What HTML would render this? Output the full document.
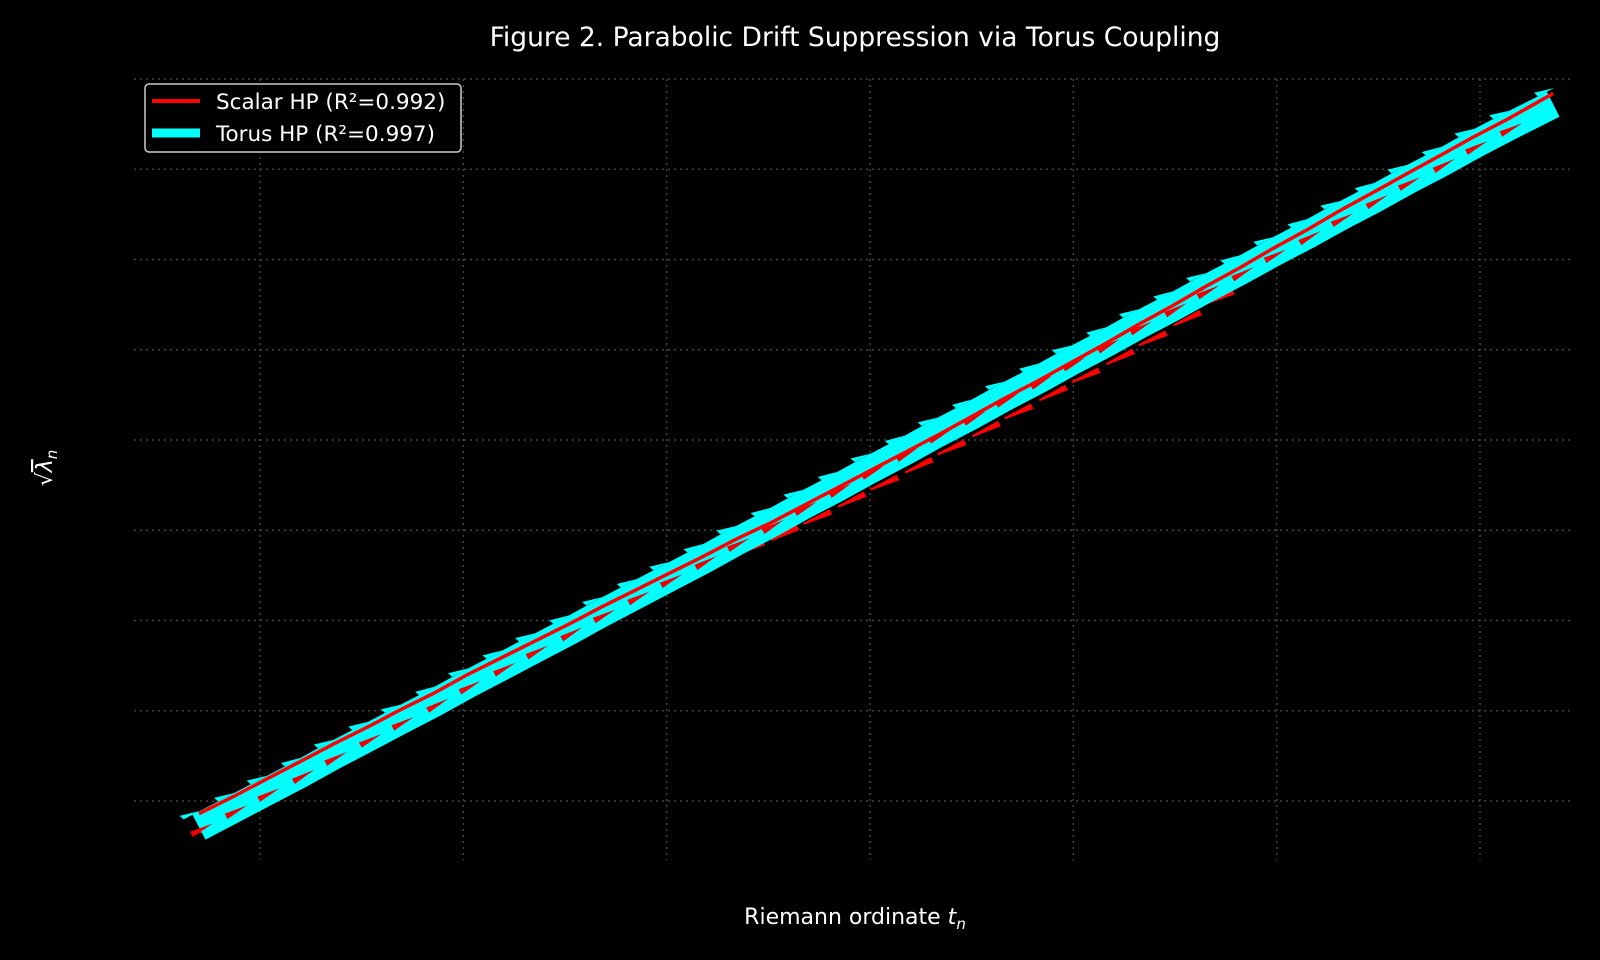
<!DOCTYPE html>
<html><head><meta charset="utf-8"><style>
html,body{margin:0;padding:0;background:#000;}
svg{display:block;font-family:"DejaVu Sans","Liberation Sans",sans-serif;}
</style></head><body>
<svg id="chart" width="1600" height="960" viewBox="0 0 1600 960">
<rect width="1600" height="960" fill="#000"/>
<text x="855" y="46" fill="#fff" font-size="26.5" text-anchor="middle">Figure 2. Parabolic Drift Suppression via Torus Coupling</text>
<g id="grid"></g>
<g id="marks"></g>
<text x="855" y="924" fill="#fff" font-size="22" text-anchor="middle">Riemann ordinate <tspan font-style="italic">t</tspan><tspan font-style="italic" font-size="15" dy="5">n</tspan></text>
<g transform="translate(52,468) rotate(-90)">
<text x="0" y="0" fill="#fff" font-size="22" text-anchor="middle">√<tspan font-style="italic" text-decoration="overline">λ</tspan><tspan font-style="italic" font-size="15" dy="5">n</tspan></text>
</g>
<g>
<rect x="145" y="84" width="316" height="68" rx="4" fill="#000" stroke="#ccc" stroke-width="1.5"/>
<g>
<line x1="152" y1="101" x2="200" y2="101" stroke="#f00" stroke-width="4"/>
<text x="216" y="109" fill="#fff" font-size="21.5">Scalar HP (R²=0.992)</text>
</g>
<g>
<line x1="152" y1="133" x2="200" y2="133" stroke="#0ff" stroke-width="9"/>
<text x="216" y="141" fill="#fff" font-size="21.5">Torus HP (R²=0.997)</text>
</g>
</g>
</svg>
<script>
const tValues=[17.0,18.7,20.3,22.0,23.6,25.3,26.9,28.6,30.2,31.9,33.5,35.2,36.8,38.5,40.1,41.8,43.4,45.1,46.7,48.4,50.0,51.7,53.3,55.0,56.6,58.3,59.9,61.6,63.2,64.9,66.5,68.2,69.8,71.5,73.1,74.8,76.4,78.1,79.7,81.4,83.6];
const torusValues=[3.71,3.91,4.10,4.30,4.50,4.70,4.89,5.09,5.29,5.49,5.68,5.88,6.08,6.28,6.47,6.67,6.87,7.07,7.27,7.47,7.67,7.87,8.07,8.27,8.47,8.67,8.87,9.07,9.27,9.47,9.67,9.87,10.07,10.27,10.47,10.67,10.87,11.07,11.27,11.47,11.72];
const scalarValues=[3.86,4.05,4.24,4.44,4.63,4.82,5.01,5.20,5.40,5.59,5.77,5.96,6.15,6.34,6.52,6.71,6.90,7.08,7.27,7.47,7.66,7.86,8.05,8.26,8.46,8.66,8.86,9.07,9.28,9.49,9.70,9.91,10.12,10.33,10.54,10.75,10.95,11.16,11.36,11.56,11.84];
const scalarArrowValues=[3.66,3.86,4.05,4.25,4.45,4.65,4.84,5.04,5.24,5.44,5.63,5.83,6.03,6.22,6.40,6.57,6.74,6.90,7.08,7.27,7.46,7.65,7.85,8.05,8.25,8.45,8.65,8.85,9.06,9.28,9.52,9.77,10.01,10.21,10.42,10.62,10.82,11.02,11.22,11.42,11.67];
const xGridTicks=[20,30,40,50,60,70,80];
const yGridTicks=[4,5,6,7,8,9,10,11,12];
const NS="http://www.w3.org/2000/svg";
const L=134,R=1572,T=79,B=860;
function xs(t){return 260+(t-20)*(1480-260)/60;}
function ys(v){return 801-(v-4)*(801-79)/8;}
function mk(tag,attrs,parent){const e=document.createElementNS(NS,tag);for(const k in attrs)e.setAttribute(k,attrs[k]);parent.appendChild(e);return e;}
const grid=document.getElementById('grid');
xGridTicks.forEach(t=>{const l=mk('line',{x1:xs(t),x2:xs(t),y1:T,y2:B,stroke:'#444','stroke-width':1.5,'stroke-dasharray':'2,4'},grid);

});
yGridTicks.forEach(v=>{const l=mk('line',{x1:L,x2:R,y1:ys(v),y2:ys(v),stroke:'#444','stroke-width':1.5,'stroke-dasharray':'2,4'},grid);

});
const marks=document.getElementById('marks');
function dir(i){const j=Math.min(i+1,tValues.length-1),k=j-1;
 const dx=xs(tValues[j])-xs(tValues[k]),dy=ys(torusValues[j])-ys(torusValues[k]);const len=Math.hypot(dx,dy);return [dx/len,dy/len];}
for(let i=0;i<tValues.length-1;i++){
 const x=xs(tValues[i]),y=ys(scalarArrowValues[i]);const [ux,uy]=dir(i);const nx=uy,ny=-ux;
 const p=[[x,y],[x+ux*30,y+uy*30],[x+ux*30-nx*6,y+uy*30-ny*6],[x-nx*2,y-ny*2]];
 const a=mk('polygon',{points:p.map(q=>q.join(',')).join(' '),fill:'#f00'},marks);
 
 
}
const tp=tValues.map((t,i)=>xs(t)+','+ys(torusValues[i])).join(' ');
const band=mk('polyline',{points:tp,fill:'none',stroke:'#0ff','stroke-width':28,'stroke-linecap':'butt'},marks);


const sp=tValues.map((t,i)=>xs(t)+','+ys(scalarValues[i])).join(' ');
const sl=mk('polyline',{points:sp,fill:'none',stroke:'#f00','stroke-width':3.5},marks);


for(let i=0;i<tValues.length;i++){
 const x=xs(tValues[i]),y=ys(torusValues[i]);const [ux,uy]=dir(i);const nx=uy,ny=-ux;
 const bx=x+nx*14,by=y+ny*14;
 const p=[[bx-ux*10,by-uy*10],[bx-ux*12+nx*5,by-uy*12+ny*5],[bx+ux*8,by+uy*8]];
 const a=mk('polygon',{points:p.map(q=>q.join(',')).join(' '),fill:'#0ff'},marks);
 
 
 if(i<tValues.length-1){
 const cx=x-nx*3,cy=y-ny*3;
 const r=[[cx+ux*14,cy+uy*14],[cx-ux*10+nx*3,cy-uy*10+ny*3],[cx-ux*10-nx*3,cy-uy*10-ny*3]];
 const b=mk('polygon',{points:r.map(q=>q.join(',')).join(' '),fill:'#e00'},marks);
 
 }
}
</script>
</body></html>
